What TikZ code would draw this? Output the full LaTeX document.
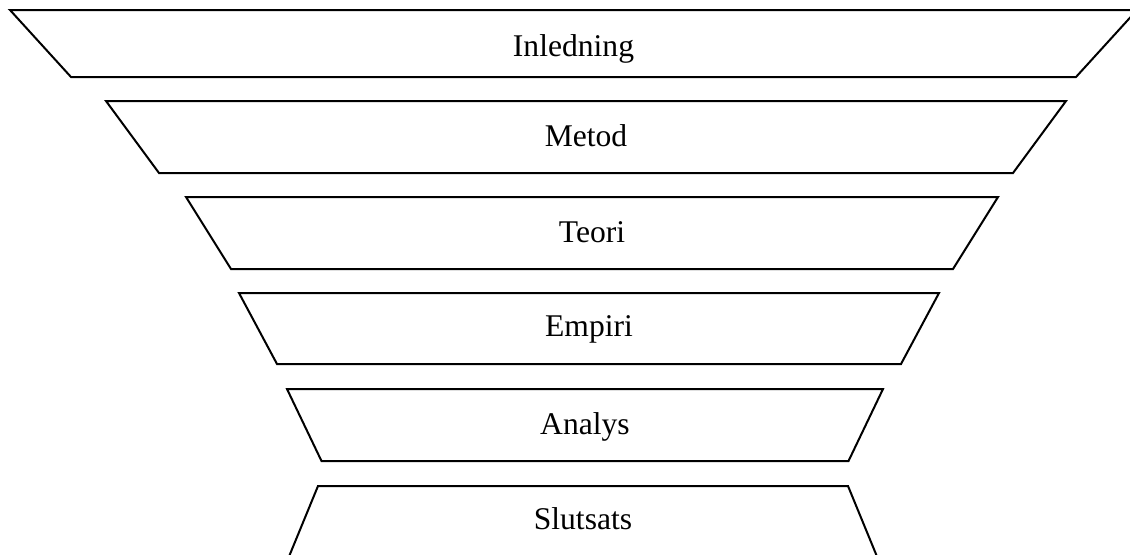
\documentclass[tikz,border=0pt]{standalone}
\usepackage{fontspec}
\setmainfont{Liberation Serif}
\usepackage{tikz}

\begin{document}
\begin{tikzpicture}[x=0.5pt,y=-0.5pt,
        layer/.style={draw,line width=1pt,line join=miter},
        lbl/.style={font=\fontsize{15.8}{19}\selectfont,inner sep=0pt,anchor=base}]

  \useasboundingbox (0,0) rectangle (1130,554);

  \draw[layer] (10,10) -- (1137,10) -- (1076,77) -- (71,77) -- cycle;
  \node[lbl] (inledning) at (573.5,56) {Inledning};

  \draw[layer] (106,101) -- (1066,101) -- (1013,173) -- (159,173) -- cycle;
  \node[lbl] (metod) at (586,146) {Metod};

  \draw[layer] (186,197) -- (998,197) -- (953,269) -- (231,269) -- cycle;
  \node[lbl] (teori) at (592,242) {Teori};

  \draw[layer] (239,293) -- (939,293) -- (901,364) -- (277,364) -- cycle;
  \node[lbl] (empiri) at (589,336) {Empiri};

  \draw[layer] (287,389) -- (883,389) -- (848.5,461) -- (321.5,461) -- cycle;
  \node[lbl] (analys) at (585,434) {Analys};

  \draw[layer] (318,486) -- (848,486) -- (877.6,558) -- (288.4,558) -- cycle;
  \node[lbl] (slutsats) at (583,529) {Slutsats};

\end{tikzpicture}
\end{document}
